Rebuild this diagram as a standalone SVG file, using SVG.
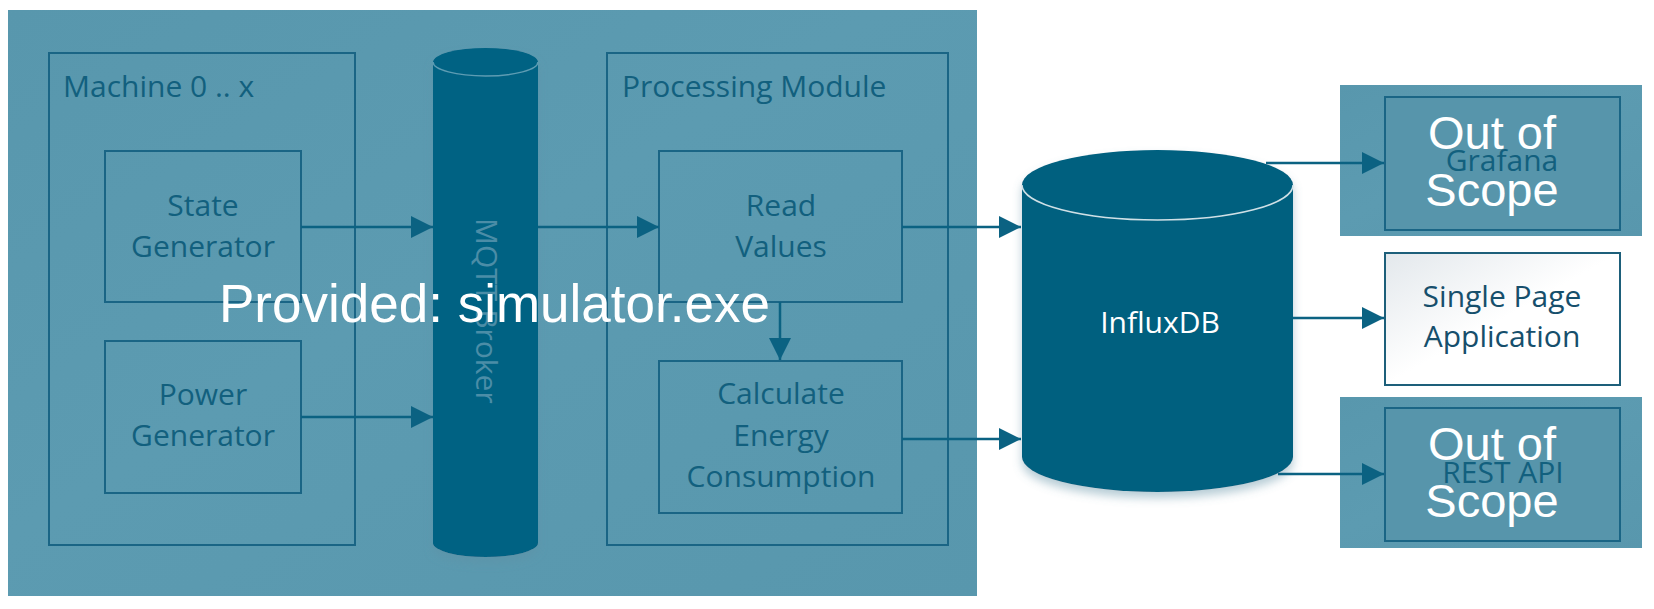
<svg xmlns="http://www.w3.org/2000/svg" width="1654" height="609" viewBox="0 0 1654 609">
<defs>
<style>
.ov{fill:url(#ovg)}
.box{fill:none;stroke:#1a6585;stroke-width:2}
.lbl{font-family:"Open Sans","Noto Sans",sans-serif;font-size:30px;fill:#12607e;text-anchor:middle}
.ttl{font-family:"Open Sans","Noto Sans",sans-serif;font-size:30px;fill:#12607e}
.conn{stroke:#0b6282;stroke-width:2.5;fill:none;marker-end:url(#ah)}
.oos{font-family:"Liberation Sans",Arial,sans-serif;font-size:47px;fill:#ffffff;text-anchor:middle}
.big{font-family:"Liberation Sans",Arial,sans-serif;font-size:53px;fill:#ffffff}
.cyl{fill:#006283}
</style>
<linearGradient id="ovg" x1="0" y1="0" x2="1" y2="1">
<stop offset="0" stop-color="#5897ad"/>
<stop offset="0.45" stop-color="#5c9bb1"/>
<stop offset="1" stop-color="#5897ad"/>
</linearGradient>
<linearGradient id="spa" x1="0" y1="0" x2="1" y2="1">
<stop offset="0" stop-color="#e3e8ec"/>
<stop offset="0.5" stop-color="#ffffff"/>
<stop offset="1" stop-color="#ffffff"/>
</linearGradient>
<marker id="ah" markerUnits="userSpaceOnUse" markerWidth="22" markerHeight="22" viewBox="0 0 22 22" refX="22" refY="11" orient="auto">
<path d="M0,0 L22,11 L0,22 z" fill="#0b6282"/>
</marker>
<filter id="sh" x="-20%" y="-20%" width="140%" height="140%">
<feGaussianBlur in="SourceAlpha" stdDeviation="5"/>
<feOffset dy="6" result="b"/>
<feFlood flood-color="#5f8fa3" flood-opacity="0.45"/>
<feComposite in2="b" operator="in"/>
<feMerge><feMergeNode/><feMergeNode in="SourceGraphic"/></feMerge>
</filter>
</defs>

<rect width="1654" height="609" fill="#ffffff"/>

<g id="provided-overlay">
<rect class="ov" x="8" y="10" width="969" height="586"/>
</g>

<g id="machine">
<rect class="box" x="49" y="53" width="306" height="492"/>
<text class="ttl" x="63" y="97">Machine 0 .. x</text>
</g>

<g id="state-generator">
<rect class="box" x="105" y="151" width="196" height="151"/>
<text class="lbl" x="203" y="216">State</text>
<text class="lbl" x="203" y="257">Generator</text>
</g>

<g id="power-generator">
<rect class="box" x="105" y="341" width="196" height="152"/>
<text class="lbl" x="203" y="405">Power</text>
<text class="lbl" x="203" y="446">Generator</text>
</g>

<g id="mqtt-broker">
<g filter="url(#sh)">
<path class="cyl" d="M433,62 L433,543 A52.5,14 0 0 0 538,543 L538,62 z"/>
<ellipse class="cyl" cx="485.5" cy="62" rx="52.5" ry="14"/>
</g>
<path d="M433,62 A52.5,14 0 0 0 538,62" fill="none" stroke="#5d9cb3" stroke-width="1.5"/>
<text transform="translate(476,218) rotate(90)" font-family="Open Sans, Noto Sans, sans-serif" font-size="30" fill="#4b8da7">MQTT Broker</text>
</g>

<g id="processing-module">
<rect class="box" x="607" y="53" width="341" height="492"/>
<text class="ttl" x="622" y="97">Processing Module</text>
</g>

<g id="read-values">
<rect class="box" x="659" y="151" width="243" height="151"/>
<text class="lbl" x="781" y="216">Read</text>
<text class="lbl" x="781" y="257">Values</text>
</g>

<g id="calculate-energy">
<rect class="box" x="659" y="361" width="243" height="152"/>
<text class="lbl" x="781" y="404">Calculate</text>
<text class="lbl" x="781" y="446">Energy</text>
<text class="lbl" x="781" y="487">Consumption</text>
</g>

<g id="influxdb">
<g filter="url(#sh)">
<path d="M1022,185 L1022,457 A135.5,35 0 0 0 1293,457 L1293,185 z" fill="#00607f"/>
<ellipse cx="1157.5" cy="185" rx="135.5" ry="35" fill="#00607f"/>
</g>
<path d="M1022,185 A135.5,35 0 0 0 1293,185" fill="none" stroke="#cfe0e6" stroke-width="1.5"/>
<text x="1160" y="333" font-family="Open Sans, Noto Sans, sans-serif" font-size="30" fill="#ffffff" text-anchor="middle">InfluxDB</text>
</g>

<g id="grafana">
<rect class="ov" x="1340" y="85" width="302" height="151"/>
<rect x="1385" y="97" width="235" height="133" fill="#5795ab" stroke="#1a6585" stroke-width="2"/>
<text class="lbl" x="1502" y="171">Grafana</text>
<text class="oos" x="1492" y="149">Out of</text>
<text class="oos" x="1492" y="206">Scope</text>
</g>

<g id="single-page-application">
<rect x="1385" y="253" width="235" height="132" fill="url(#spa)" stroke="#1d5f7a" stroke-width="2"/>
<text x="1502" y="307" font-family="Open Sans, Noto Sans, sans-serif" font-size="30" fill="#164f6c" text-anchor="middle">Single Page</text>
<text x="1502" y="347" font-family="Open Sans, Noto Sans, sans-serif" font-size="30" fill="#164f6c" text-anchor="middle">Application</text>
</g>

<g id="rest-api">
<rect class="ov" x="1340" y="397" width="302" height="151"/>
<rect x="1385" y="408" width="235" height="133" fill="#5795ab" stroke="#1a6585" stroke-width="2"/>
<text class="lbl" x="1503" y="483">REST API</text>
<text class="oos" x="1492" y="460">Out of</text>
<text class="oos" x="1492" y="517">Scope</text>
</g>

<g id="connectors">
<line class="conn" x1="301" y1="227" x2="433" y2="227"/>
<line class="conn" x1="301" y1="417" x2="433" y2="417"/>
<line class="conn" x1="538" y1="227" x2="659" y2="227"/>
<line class="conn" x1="780" y1="302" x2="780" y2="360"/>
<line class="conn" x1="902" y1="227" x2="1021" y2="227"/>
<line class="conn" x1="902" y1="439" x2="1021" y2="439"/>
<line class="conn" x1="1266" y1="163" x2="1384" y2="163"/>
<line class="conn" x1="1293" y1="318" x2="1384" y2="318"/>
<line class="conn" x1="1278" y1="474" x2="1384" y2="474"/>
</g>

<g id="provided-label">
<text class="big" x="219" y="322">Provided: simulator.exe</text>
</g>
</svg>
